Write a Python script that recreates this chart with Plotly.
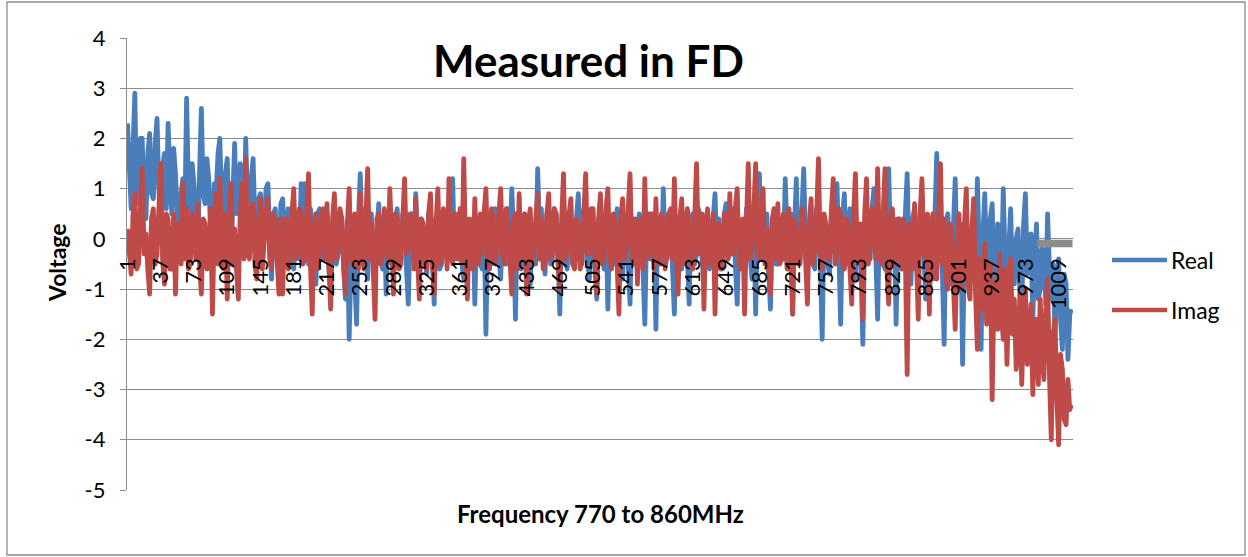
import plotly.graph_objects as go

# ---------------- data ----------------
N_CATEGORIES = 1024
SAMPLE_STEP = 2  # one reading every 2 categories

real_vals = [
    2.3, 1.1, 0.6, 1.8, 2.9, 0.7, 1.0, 2.0, 2.0, 0.5, 0.4, 1.7, 2.1, 0.9, 0.8, 1.9, 2.4, 1.0, 0.2, 1.4, 1.7, 0.6, 2.3, 1.2, 0.5, 1.8, 1.3, 0.4, -0.3, 0.9, 1.2, 0.3,
    2.8, 1.0, 0.3, 1.5, 1.1, 0.2, -0.4, 1.3, 2.6, 0.9, 0.7, 1.6, 1.2, 0.1, -0.2, 1.1, 0.9, 1.7, 2.0, 0.6, 0.4, 1.3, 1.6, 0.2, -0.5, 0.8, 1.9, 0.5, 0.6, 1.5, 1.4, 0.3,
    2.0, 0.7, 0.5, 1.2, 1.6, 0.3, -0.3, 0.8, 0.9, -0.2, 0.2, 1.0, 1.1, 0.1, -0.8, 0.5, 0.6, -0.4, -0.7, 0.7, 0.8, -0.1, -0.3, 0.6, 0.5, -0.5, -0.6, 0.3, 0.4, -0.4, 1.1, 0.2,
    1.1, 0.2, -0.5, 0.6, 0.3, -0.4, -0.9, 0.5, 0.6, -0.3, -0.4, 0.4, 0.5, -0.6, -1.0, 0.3, 0.2, -0.5, -0.3, 0.5, 0.4, -0.6, -1.2, 0.2, -2.0, -0.4, 0.3, -0.8, -1.7, 0.4, 1.3, -0.2,
    0.2, 0.6, -0.8, 0.3, 0.5, -0.5, -0.4, 0.4, 0.7, -0.3, -0.6, 0.5, -1.1, 0.2, 0.3, -0.5, -0.5, 0.4, 0.6, -0.4, -0.2, 0.5, 0.4, -0.6, -1.3, 0.3, 0.5, -0.4, 0.9, 0.1, -0.6, 0.4,
    0.3, -0.4, -0.7, 0.5, 0.6, -0.3, -1.3, 0.4, 0.2, -0.6, -0.5, 0.5, 0.4, -0.4, 0.1, 0.6, 1.2, -0.3, -0.4, 0.5, 0.5, -0.5, -0.8, 0.3, 0.3, -0.6, -0.5, 0.4, -1.3, 0.2, 0.4, -0.5,
    -0.6, 0.4, -1.9, 0.2, 0.3, -0.5, -0.4, 0.6, 0.5, -0.3, -0.8, 0.4, 0.2, -0.5, 0.6, -0.2, 1.0, 0.1, -1.6, 0.4, 0.3, -0.6, -0.5, 0.5, 0.4, -0.4, -0.9, 0.3, 0.2, -0.5, 1.4, 0.2,
    0.6, -0.3, -0.7, 0.5, 0.3, -0.5, -0.4, 0.6, 0.5, -0.2, -1.5, 0.3, 0.2, -0.4, -0.6, 0.5, 0.4, -0.5, -0.3, 0.4, 0.9, -0.2, -0.5, 0.6, 0.3, -0.4, -0.8, 0.3, 0.2, -0.6, -1.2, 0.4,
    0.3, -0.4, -0.6, 0.5, -1.4, 0.2, 0.4, -0.5, -0.3, 0.6, 0.5, -0.4, -0.8, 0.3, 0.2, -0.5, -1.3, 0.4, 0.4, -0.3, -0.5, 0.5, 0.3, -0.6, -1.7, 0.2, 0.5, -0.4, -0.4, 0.3, -1.8, 0.4,
    0.2, -0.5, 1.0, -0.2, -0.4, 0.5, 0.3, -0.6, -1.5, 0.2, 0.4, -0.4, -0.6, 0.5, 0.2, -0.3, -1.3, 0.3, 0.5, -0.5, -0.3, 0.6, 0.4, -0.4, -0.9, 0.2, 0.3, -0.6, -0.5, 0.4, 0.9, -0.2,
    0.4, -0.3, -0.6, 0.5, 0.7, -0.4, -0.3, 0.6, 0.5, -0.5, -1.3, 0.2, 0.3, -0.4, -0.5, 0.6, 0.2, -0.3, -0.8, 0.4, -1.5, 0.3, 1.3, -0.2, -0.4, 0.5, 0.5, -0.6, -1.4, 0.3, 0.6, -0.5,
    -0.5, 0.4, 0.3, -0.4, 1.2, 0.1, -0.6, 0.5, -1.5, 0.2, 1.2, -0.3, -0.4, 0.5, 1.4, 0.0, -0.8, 0.3, 0.4, -0.5, -0.6, 0.6, 0.3, -0.4, -2.0, 0.2, 0.2, -0.5, -0.7, 0.5, 0.4, -0.3,
    1.1, -0.2, -1.7, 0.4, 0.9, -0.3, -0.5, 0.6, 0.4, -0.5, -0.8, 0.3, 0.3, -0.6, -2.1, 0.2, 0.5, -0.4, -0.4, 0.6, 1.0, -0.3, -1.6, 0.4, 0.3, -0.5, -0.6, 0.5, 1.4, -0.2, -0.5, 0.4,
    -1.7, 0.2, 0.4, -0.5, -0.6, 0.5, 1.3, -0.3, -0.9, 0.4, 0.6, -0.6, -0.4, 0.5, 0.9, -0.2, -1.2, 0.3, 0.3, -0.7, -0.8, 0.4, 1.7, -0.4, 0.2, -0.6, -2.1, 0.3, 0.5, -0.6, -0.9, 0.2,
    1.2, -0.4, -1.0, 0.3, -2.5, -0.2, 0.3, -0.9, -0.8, 0.2, 0.5, -0.7, 1.2, -0.3, -2.2, 0.1, 0.9, -0.5, -0.6, 0.4, 0.7, -0.8, -1.2, 0.3, 0.2, -0.9, 1.0, -0.4, -1.8, -0.2, 0.6, -0.8,
    -0.9, 0.0, 0.2, -1.1, -1.4, 0.3, 0.9, -0.7, -0.6, 0.1, -1.6, -0.4, 0.3, -1.2, -1.0, -0.2, -0.3, -1.3, 0.5, -0.6, -1.2, -0.5, -1.9, -0.8, -0.4, -1.6, -2.2, -0.7, -0.9, -2.4, -1.5, -1.4,
]

imag_vals = [
    0.2, -0.4, -0.7, 0.5, 0.9, -0.6, -0.5, 0.7, 1.4, -0.3, 0.1, -0.6, -1.1, 0.4, 0.6, -0.5, -0.3, 0.6, 1.5, -0.4, -0.9, 0.5, 0.4, -0.6, -0.6, 0.5, -1.1, 0.3, 0.3, -0.5, 1.1, -0.4,
    0.6, -0.6, -0.5, 0.5, 0.2, -0.4, 0.7, -0.5, -1.1, 0.4, 0.3, -0.6, -0.4, 0.6, -1.5, 0.3, 0.9, -0.5, 1.2, -0.3, -0.6, 0.5, -1.2, 0.4, 1.1, -0.5, 0.2, -0.6, -1.2, 0.5, 1.1, -0.4,
    1.6, -0.3, -0.4, 0.6, 0.7, -0.5, -0.8, 0.4, 0.8, -0.6, 0.1, 0.5, 0.8, -0.4, -0.6, 0.5, 0.3, -0.5, -1.1, 0.4, -1.1, 0.3, 0.4, -0.6, -0.5, 0.5, 1.0, -0.4, -0.3, 0.6, 0.5, -0.5,
    -0.4, 0.5, 1.3, -0.5, -1.5, 0.3, 0.5, -0.6, -0.3, 0.5, 0.6, -0.4, 0.7, -0.5, -1.4, 0.4, 0.9, -0.4, -0.2, 0.6, 0.4, -0.5, -1.1, 0.3, 1.0, -0.4, -0.5, 0.5, 0.3, -0.6, 0.9, -0.3,
    -0.6, 0.4, 1.4, -0.4, 0.3, -0.6, -1.6, 0.4, 0.5, -0.5, -0.3, 0.6, 0.2, -0.4, 1.0, -0.3, -1.1, 0.5, 0.4, -0.6, -0.5, 0.4, 1.2, -0.3, -0.2, 0.5, 0.3, -0.6, 0.8, -0.4, -1.2, 0.4,
    0.3, -0.5, -0.6, 0.5, 0.9, -0.4, -1.1, 0.3, 1.0, -0.5, -0.4, 0.6, 0.2, -0.6, 1.2, -0.3, -0.5, 0.5, 0.4, -0.4, 0.6, -0.5, 1.6, -0.2, -1.2, 0.4, 0.2, -0.6, 0.8, -0.3, -0.5, 0.5,
    -0.3, 0.5, 1.0, -0.4, -0.6, 0.6, 0.4, -0.5, -0.2, 0.5, 1.0, -0.3, -0.5, 0.6, 0.3, -0.4, -1.1, 0.4, 0.5, -0.6, 0.9, -0.3, -0.4, 0.5, -1.1, 0.3, 0.6, -0.5, -0.3, 0.4, 0.9, -0.4,
    0.4, -0.6, -0.5, 0.5, 0.9, -0.4, -0.3, 0.6, 0.5, -0.5, -1.0, 0.4, 1.3, -0.4, -0.2, 0.5, 0.8, -0.5, -0.6, 0.4, 0.3, -0.6, -0.4, 0.5, 1.3, -0.3, -0.3, 0.6, 0.6, -0.4, -1.1, 0.4,
    0.9, -0.5, -0.4, 0.6, 1.0, -0.3, -0.6, 0.5, 0.3, -0.5, -1.5, 0.4, 0.8, -0.4, -0.2, 0.6, 1.3, -0.3, -0.5, 0.4, -0.9, 0.3, 0.4, -0.6, 1.2, -0.4, -0.3, 0.5, 0.5, -0.6, 0.8, -0.4,
    -0.5, 0.5, 0.4, -0.6, -0.3, 0.5, 0.6, -0.4, 1.2, -0.3, -1.1, 0.4, 0.8, -0.5, -0.4, 0.6, 0.3, -0.5, -0.6, 0.4, 1.5, -0.3, -0.2, 0.5, -1.4, 0.3, 0.6, -0.5, -0.4, 0.5, -1.5, 0.3,
    0.3, -0.6, -0.5, 0.5, 0.4, -0.4, 0.9, -0.3, -0.3, 0.6, 1.0, -0.5, -0.6, 0.4, -1.5, 0.3, 1.5, -0.4, -0.2, 0.6, 1.5, -0.3, -0.4, 0.5, 1.0, -0.5, 0.2, -0.6, -1.1, 0.4, 0.6, -0.4,
    0.7, -0.5, -0.4, 0.5, 0.3, -0.6, 0.6, -0.3, -1.5, 0.4, 0.2, -0.5, -0.5, 0.6, 0.4, -0.4, -1.3, 0.3, 0.8, -0.5, -0.2, 0.5, 1.6, -0.3, -0.6, 0.5, 0.3, -0.4, -0.4, 0.6, 1.2, -0.5,
    -0.3, 0.6, 0.5, -0.5, -0.6, 0.4, 0.3, -0.6, -1.3, 0.5, 1.3, -0.4, -0.4, 0.3, -1.6, 0.5, 1.2, -0.5, -0.2, 0.6, 0.4, -0.4, 1.4, -0.3, -0.5, 0.5, 1.4, -0.6, -1.3, 0.4, 0.6, -0.5,
    -0.5, 0.4, 0.2, -0.6, 0.4, -0.3, -2.7, 0.3, 0.3, -0.6, 0.7, -0.4, -1.6, 0.5, 1.2, -0.3, -0.4, 0.5, -1.5, 0.3, 0.5, -0.7, -0.8, 0.4, 1.5, -0.5, 0.4, -0.8, -1.0, 0.3, 0.2, -0.9,
    -1.8, -0.2, 0.5, -1.0, -0.7, 0.3, 1.0, -0.9, -1.2, 0.2, 0.8, -1.1, -2.2, -0.4, -0.5, -1.4, -0.1, -1.7, -1.6, -0.5, -3.2, -1.0, -0.9, -1.8, -0.3, -1.5, -2.0, -0.6, -2.5, -1.1, -0.4, -1.9,
    -1.2, -2.6, -2.3, -1.1, -2.9, -1.5, -1.0, -2.5, -2.4, -1.3, -3.1, -1.8, -1.6, -2.9, -1.2, -2.2, -2.8, -1.4, -0.8, -2.7, -4.0, -1.9, -1.6, -3.2, -4.1, -2.3, -2.6, -3.6, -3.7, -2.8, -3.4, -3.3,
]

# third (grey) series, only visible at the right end
grey_x = [986, 1024]
grey_vals = [-0.09, -0.09]

tick_vals = list(range(1, 1010, 36))
tick_labels = [str(v) for v in tick_vals]
y_tick_vals = [-5, -4, -3, -2, -1, 0, 1, 2, 3, 4]
y_tick_labels = ["-5", "-4", "-3", "-2", "-1", "0", "1", "2", "3", "4"]

series_names = ["Real", "Imag"]
series_colors = ["#4a7ebb", "#be4b48"]

# ---------------- figure ----------------
x_pos = [1 + SAMPLE_STEP * i for i in range(len(real_vals))]

FONT = "Lato, Carlito, Calibri, sans-serif"
GRID = "#8c8c8c"

fig = go.Figure()
fig.add_trace(go.Scatter(x=x_pos, y=real_vals, mode="lines", name="Real",
                         line=dict(color=series_colors[0], width=4.8), showlegend=False))
fig.add_trace(go.Scatter(x=x_pos, y=imag_vals, mode="lines", name="Imag",
                         line=dict(color=series_colors[1], width=4.8), showlegend=False))
fig.add_trace(go.Scatter(x=grey_x, y=grey_vals, mode="lines", name="",
                         line=dict(color="#8c8c8c", width=7.5), showlegend=False))

W, H = 1248, 557
L, R, T, B = 127, 1073, 38, 490
def px_x(p):
    return (p - L) / (R - L)
def px_y(p):
    return (B - p) / (B - T)

fig.update_layout(
    width=W, height=H,
    margin=dict(l=L, r=W - R, t=T, b=H - B, autoexpand=False),
    paper_bgcolor="white", plot_bgcolor="white",
    font=dict(family=FONT, color="black", size=22),
    showlegend=False,
)

fig.update_yaxes(
    range=[-5, 4], tickmode="array", tickvals=y_tick_vals, ticktext=y_tick_labels,
    showgrid=True, gridcolor=GRID, gridwidth=1.3,
    zeroline=False,
    showline=True, linecolor=GRID, linewidth=1.3,
    ticks="outside", ticklen=6, tickcolor=GRID, tickwidth=1.3,
    tickfont=dict(size=22, family=FONT, color="black"),
    ticklabelstandoff=10,
)
fig.update_xaxes(
    range=[0.5, N_CATEGORIES + 0.5],
    tickmode="array", tickvals=tick_vals, ticktext=tick_labels,
    tickangle=-90,
    tickfont=dict(size=22, family=FONT, color="black"),
    showgrid=False, zeroline=False,
    showline=False, ticks="",
    anchor="free", position=5 / 9,
    ticklabelstandoff=14,
)

annotations = [
    dict(text="<b>Measured in FD</b>", x=px_x(588), y=px_y(60), xref="paper", yref="paper",
         showarrow=False, font=dict(size=44, family=FONT, color="black"),
         xanchor="center", yanchor="middle"),
    dict(text="<b>Frequency 770 to 860MHz</b>", x=px_x(600), y=px_y(513), xref="paper", yref="paper",
         showarrow=False, font=dict(size=24, family=FONT, color="black"),
         xanchor="center", yanchor="middle"),
    dict(text="<b>Voltage</b>", x=px_x(57), y=px_y(263), xref="paper", yref="paper",
         showarrow=False, textangle=-90, font=dict(size=23, family=FONT, color="black"),
         xanchor="center", yanchor="middle"),
]
shapes = []
legend_y = [260, 310]
for name, col, ly in zip(series_names, series_colors, legend_y):
    shapes.append(dict(type="line", xref="paper", yref="paper",
                       x0=px_x(1112), x1=px_x(1167), y0=px_y(ly), y1=px_y(ly),
                       line=dict(color=col, width=4.5)))
    annotations.append(dict(text=name, x=px_x(1169), y=px_y(ly), xref="paper", yref="paper",
                            showarrow=False, xanchor="left", yanchor="middle",
                            font=dict(size=23, family=FONT, color="black")))
# outer chart border
shapes.append(dict(type="rect", xref="paper", yref="paper",
                   x0=px_x(7), x1=px_x(1245), y0=px_y(555), y1=px_y(2),
                   line=dict(color="#8c8c8c", width=1.3), fillcolor="rgba(0,0,0,0)"))
fig.update_layout(annotations=annotations, shapes=shapes)

fig.write_html(
    "out.html",
    config={"displayModeBar": False},
    post_script=(
        "document.body.style.margin='0';document.body.style.overflow='hidden';"
        "document.querySelectorAll('.js-line').forEach(function(e){e.style.strokeLinejoin='round';});"
    ),
)
